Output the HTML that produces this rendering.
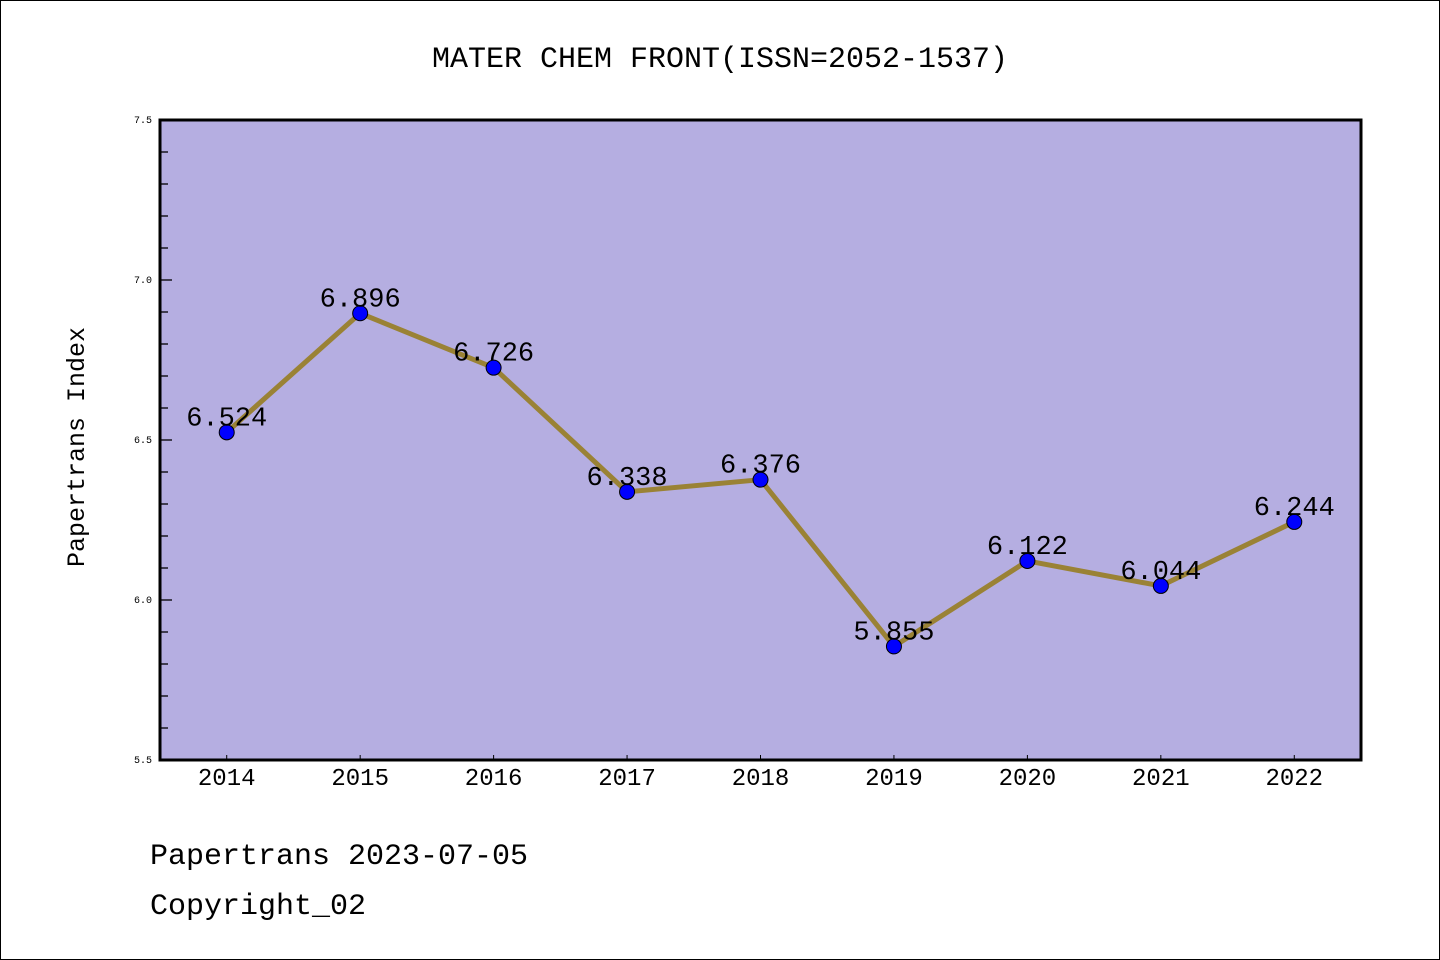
<!DOCTYPE html>
<html><head><meta charset="utf-8"><style>
html,body{margin:0;padding:0;background:#fff}
svg{display:block}
text{font-family:"Liberation Mono",monospace}
</style></head><body>
<svg id="chart" width="1440" height="960">
<rect x="0.5" y="0.5" width="1439" height="959" fill="#fff" stroke="#000"/>
<text x="720" y="67" font-size="30" text-anchor="middle">MATER CHEM FRONT(ISSN=2052-1537)</text>
<rect x="160" y="120" width="1201" height="640" fill="#b5aee1"/>
<g id="yaxis"></g><g id="xaxis"></g><g id="series"></g>
<rect x="160" y="120" width="1201" height="640" fill="none" stroke="#000" stroke-width="3"/>
<text transform="translate(84,447) rotate(-90)" font-size="25" text-anchor="middle">Papertrans Index</text>
<text x="150" y="864" font-size="30">Papertrans 2023-07-05</text>
<text x="150" y="914" font-size="30">Copyright_02</text>
</svg>
<script>
const years = ["2014","2015","2016","2017","2018","2019","2020","2021","2022"];
const values = [6.524,6.896,6.726,6.338,6.376,5.855,6.122,6.044,6.244];
const valueLabels = ["6.524","6.896","6.726","6.338","6.376","5.855","6.122","6.044","6.244"];
const yTickLabels = ["5.5","6.0","6.5","7.0","7.5"];
const yMin=5.5,yMax=7.5,L=160,R=1361,T=120,B=760;
const NS="http://www.w3.org/2000/svg";
function yS(v){return B-(v-yMin)/(yMax-yMin)*(B-T);}
function xS(i){const bw=(R-L)/years.length;return L+bw*(i+0.5);}
function mk(tag,attrs,parent){const e=document.createElementNS(NS,tag);for(const k in attrs)e.setAttribute(k,attrs[k]);parent.appendChild(e);return e;}
const ya=document.getElementById('yaxis'),xa=document.getElementById('xaxis'),se=document.getElementById('series');
for(let k=0;k<=20;k++){
  const v=yMin+k*0.1,y=yS(v),major=k%5===0;
  const t=mk('line',{x1:L,x2:L+(major?12:8),y1:y,y2:y,stroke:'#000','stroke-width':1.3},ya);
  
  
}
yTickLabels.forEach(s=>{
  const t=mk('text',{x:152,y:yS(parseFloat(s))+3,'font-size':10,'text-anchor':'end'},ya);
  t.textContent=s;
  
  
});
years.forEach((yr,i)=>{
  const x=xS(i);
  const t=mk('line',{x1:x,x2:x,y1:B,y2:B-5,stroke:'#000','stroke-width':1},xa);
  
  
  const l=mk('text',{x:x,y:785,'font-size':24,'text-anchor':'middle'},xa);
  l.textContent=yr;
  
  
});
const pts=values.map((v,i)=>xS(i)+','+yS(v)).join(' ');
const pl=mk('polyline',{points:pts,fill:'none',stroke:'#9a8235','stroke-width':5,'stroke-linejoin':'round'},se);


values.forEach((v,i)=>{
  const c=mk('circle',{cx:xS(i),cy:yS(v),r:7.5,fill:'#0000ff',stroke:'#000','stroke-width':1},se);
  
  
});
values.forEach((v,i)=>{
  const t=mk('text',{x:xS(i),y:yS(v)-7,'font-size':27,'text-anchor':'middle'},se);
  t.textContent=valueLabels[i];
  
  
});
</script>
</body></html>
